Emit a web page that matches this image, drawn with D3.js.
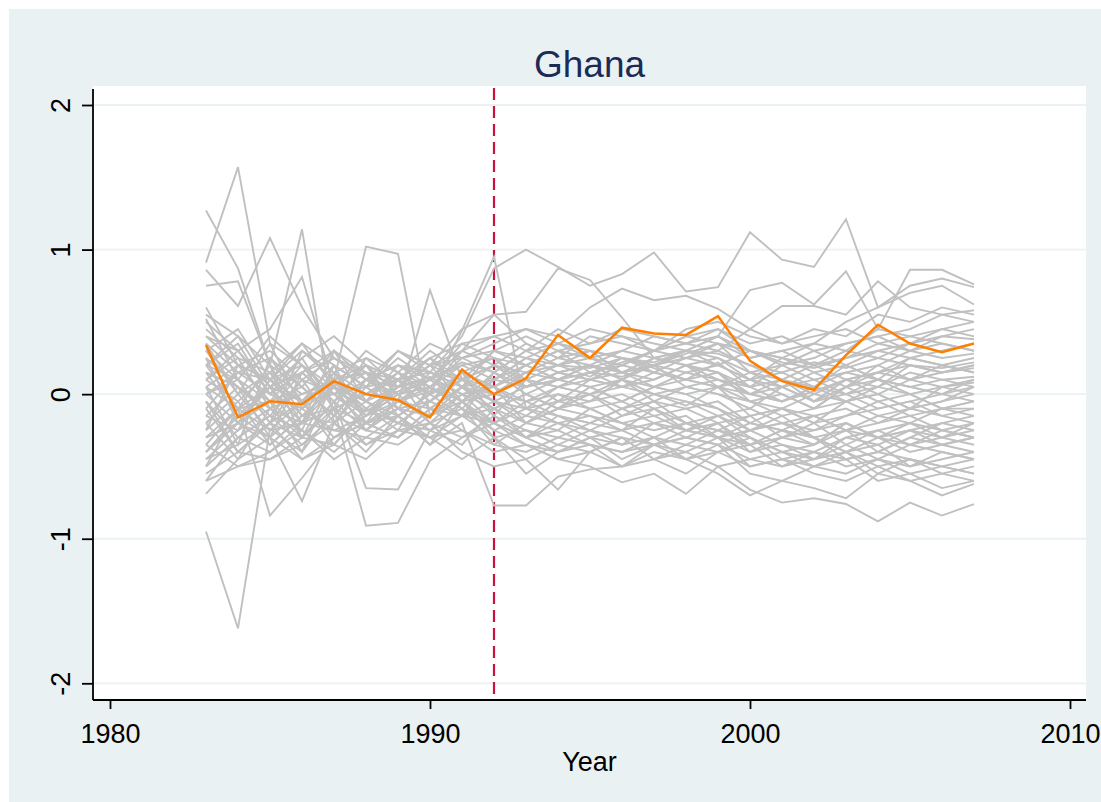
<!DOCTYPE html>
<html>
<head>
<meta charset="utf-8">
<script src="https://cdn.jsdelivr.net/npm/d3@7"></script>
<style>
  html, body { margin: 0; padding: 0; background: #ffffff; }
  svg { display: block; }
  text { font-family: "Liberation Sans", Arial, sans-serif; }
</style>
</head>
<body>
<svg id="chart" width="1101" height="802"></svg>
<script>
// ---------- DATA ----------
const title = "Ghana";
const xLabel = "Year";
const years = [1983,1984,1985,1986,1987,1988,1989,1990,1991,1992,1993,1994,1995,1996,1997,1998,1999,2000,2001,2002,2003,2004,2005,2006,2007];
const treatYear = 1992;
const xTicks = [1980, 1990, 2000, 2010];
const yTicks = [-2, -1, 0, 1, 2];

const ghana = [0.34,-0.16,-0.05,-0.07,0.09,0.00,-0.04,-0.16,0.17,0.00,0.11,0.41,0.25,0.46,0.42,0.41,0.54,0.23,0.09,0.03,0.27,0.48,0.35,0.29,0.35];

const g1  = [0.91,1.57,0.35,-0.10,0.05,-0.12,0.02,0.10,0.22,0.15,0.30,0.20,0.12,0.25,0.18,0.10,0.22,0.05,-0.05,0.02,0.10,0.15,0.20,0.18,0.22];
const g2  = [1.27,0.87,0.20,-0.30,0.10,0.15,-0.05,0.02,0.30,0.55,0.35,0.25,0.30,0.15,0.20,0.28,0.35,0.30,0.22,0.18,0.25,0.30,0.35,0.40,0.38];
const g3  = [0.86,0.61,1.08,0.60,0.25,0.10,0.05,0.20,0.10,0.05,-0.10,-0.05,0.10,0.05,0.00,-0.08,0.05,-0.15,-0.10,-0.20,-0.05,0.00,0.10,0.05,0.08];
const g4  = [0.75,0.78,0.20,1.14,-0.20,0.10,0.00,0.05,-0.10,-0.20,-0.30,-0.15,-0.20,-0.25,-0.10,-0.20,-0.30,-0.35,-0.25,-0.30,-0.40,-0.30,-0.35,-0.25,-0.30];
const g5  = [0.50,0.30,0.45,0.81,0.05,-0.15,0.10,0.25,0.05,0.10,0.20,0.30,0.15,0.22,0.30,0.35,0.40,0.25,0.30,0.35,0.50,0.60,0.70,0.75,0.62];
const g6  = [-0.95,-1.62,-0.24,-0.40,-0.10,-0.20,-0.30,-0.15,-0.05,-0.25,-0.35,-0.40,-0.30,-0.45,-0.35,-0.40,-0.30,-0.50,-0.45,-0.40,-0.50,-0.45,-0.55,-0.50,-0.45];
const g7  = [-0.30,-0.10,-0.84,-0.58,-0.30,-0.15,-0.05,-0.10,0.05,-0.10,0.00,-0.10,0.05,-0.05,0.05,0.00,-0.10,-0.20,-0.10,-0.15,-0.25,-0.20,-0.10,-0.15,-0.20];
const g8  = [-0.69,-0.45,-0.30,-0.74,-0.20,-0.35,-0.25,-0.20,-0.40,-0.50,-0.45,-0.35,-0.25,-0.30,-0.45,-0.35,-0.40,-0.30,-0.45,-0.50,-0.40,-0.55,-0.45,-0.50,-0.55];
const g9  = [0.10,0.25,-0.10,0.00,0.10,1.02,0.97,-0.15,0.05,0.30,0.20,0.10,0.15,0.05,0.10,0.20,0.05,-0.05,0.00,-0.10,0.05,0.10,0.00,0.05,0.10];
const g10 = [0.20,-0.10,0.05,-0.20,0.15,0.00,-0.05,0.72,0.10,0.00,0.15,0.10,0.20,0.15,0.25,0.30,0.20,0.10,0.15,0.05,0.20,0.10,0.25,0.20,0.15];
const g11 = [-0.40,-0.20,-0.35,-0.15,-0.10,-0.91,-0.89,-0.46,-0.30,-0.20,-0.30,-0.40,-0.35,-0.50,-0.40,-0.45,-0.35,-0.55,-0.60,-0.50,-0.45,-0.60,-0.55,-0.65,-0.60];
const g12 = [-0.20,-0.45,-0.10,-0.30,-0.05,-0.65,-0.66,-0.25,-0.15,-0.30,-0.55,-0.40,-0.30,-0.35,-0.20,-0.25,-0.15,-0.30,-0.40,-0.35,-0.20,-0.30,-0.25,-0.35,-0.30];
const g13 = [0.00,0.15,0.10,-0.05,0.20,0.05,0.10,0.00,0.44,0.95,-0.10,0.05,0.00,0.10,-0.05,0.05,0.00,-0.10,0.05,-0.05,0.10,0.00,-0.10,0.05,0.00];
const g14 = [-0.50,-0.30,-0.40,-0.20,-0.25,-0.30,-0.15,-0.35,-0.20,-0.77,-0.77,-0.57,-0.52,-0.50,-0.45,-0.55,-0.40,-0.50,-0.45,-0.55,-0.60,-0.50,-0.45,-0.55,-0.60];
const g15 = [0.30,0.10,0.40,0.20,0.05,0.20,0.10,0.15,0.40,0.87,1.00,0.88,0.75,0.83,0.98,0.71,0.74,1.12,0.93,0.88,1.21,0.60,0.75,0.80,0.74];
const g16 = [0.20,0.35,0.00,0.15,0.25,0.10,0.30,0.20,0.45,0.55,0.57,0.87,0.79,0.53,0.25,0.30,0.40,0.72,0.77,0.62,0.85,0.45,0.86,0.86,0.76];
const g17 = [0.40,0.20,0.10,0.30,0.15,0.25,0.05,0.20,0.30,0.40,0.45,0.40,0.60,0.73,0.65,0.68,0.59,0.45,0.61,0.61,0.55,0.78,0.60,0.55,0.58];
const g18 = [-0.40,-0.20,-0.30,-0.45,-0.35,-0.10,-0.20,-0.30,-0.25,-0.40,-0.35,-0.45,-0.50,-0.61,-0.55,-0.69,-0.50,-0.66,-0.75,-0.72,-0.76,-0.88,-0.75,-0.84,-0.76];
const g19 = [-0.10,-0.40,-0.20,-0.05,-0.30,-0.20,-0.10,-0.25,-0.05,-0.30,-0.45,-0.66,-0.40,-0.50,-0.35,-0.45,-0.55,-0.70,-0.60,-0.65,-0.72,-0.55,-0.60,-0.70,-0.62];
const b1  = [0.10,-0.05,0.15,0.00,0.08,-0.10,0.05,0.12,0.00,0.05,0.15,0.20,0.18,0.25,0.22,0.30,0.28,0.20,0.15,0.22,0.18,0.25,0.20,0.15,0.18];
const b2  = [-0.15,-0.25,-0.10,-0.20,0.05,-0.05,-0.15,0.00,0.10,-0.05,0.05,0.10,0.15,0.12,0.20,0.15,0.10,0.00,-0.05,0.05,0.00,-0.10,-0.05,0.00,-0.05];
const b3  = [0.25,0.05,-0.10,0.15,-0.05,0.10,0.20,0.05,-0.10,0.10,0.25,0.15,0.20,0.10,0.05,0.15,0.20,0.10,0.25,0.15,0.05,0.20,0.30,0.25,0.28];
const b4  = [-0.40,-0.15,-0.30,-0.10,-0.25,-0.15,0.00,-0.20,-0.10,-0.25,-0.15,-0.20,-0.30,-0.25,-0.35,-0.30,-0.20,-0.35,-0.30,-0.25,-0.20,-0.30,-0.40,-0.35,-0.30];
const b5  = [0.05,0.20,0.30,0.10,0.25,0.15,0.05,0.10,0.20,0.25,0.10,0.05,0.15,0.20,0.30,0.25,0.35,0.15,0.10,0.20,0.25,0.35,0.40,0.45,0.50];
const b6  = [-0.05,-0.30,-0.15,-0.35,-0.15,-0.25,-0.10,-0.05,0.15,0.05,-0.20,-0.10,0.00,-0.15,-0.05,-0.20,-0.25,-0.15,-0.30,-0.20,-0.35,-0.25,-0.20,-0.30,-0.25];
const b7  = [0.35,0.15,0.25,-0.05,0.10,0.20,0.00,0.05,0.25,0.15,0.30,0.35,0.25,0.30,0.40,0.35,0.45,0.30,0.20,0.25,0.35,0.40,0.30,0.35,0.30];
const b8  = [-0.25,-0.05,-0.35,-0.15,-0.20,0.05,-0.10,-0.15,0.05,-0.15,-0.25,-0.30,-0.20,-0.10,-0.20,-0.15,-0.30,-0.25,-0.15,-0.30,-0.25,-0.40,-0.30,-0.20,-0.25];
const b9  = [0.15,-0.15,0.05,0.25,-0.10,0.00,0.15,-0.05,0.10,0.20,0.10,0.20,0.25,0.15,0.20,0.25,0.30,0.20,0.10,0.05,0.15,0.10,0.05,0.10,0.12];
const b10 = [-0.45,-0.35,-0.20,-0.45,-0.30,-0.20,-0.30,-0.10,-0.25,-0.35,-0.20,-0.25,-0.10,-0.20,-0.15,-0.25,-0.20,-0.40,-0.35,-0.45,-0.30,-0.35,-0.50,-0.45,-0.40];
const b11 = [0.00,0.10,-0.05,0.05,-0.15,0.10,0.05,0.20,-0.05,0.15,0.05,0.15,0.10,0.20,0.15,0.10,0.05,0.15,0.05,0.10,0.00,0.05,0.15,0.10,0.05];
const b12 = [0.45,0.25,0.15,0.35,0.20,0.05,0.25,0.10,0.30,0.20,0.35,0.25,0.40,0.35,0.30,0.40,0.35,0.25,0.30,0.20,0.30,0.25,0.35,0.45,0.40];
const b13 = [-0.20,0.00,-0.25,-0.05,-0.35,-0.10,-0.20,-0.05,-0.15,-0.05,-0.15,0.00,-0.10,-0.05,-0.15,-0.10,-0.05,-0.20,-0.25,-0.15,-0.10,-0.20,-0.15,-0.25,-0.20];
const b14 = [0.20,0.40,0.05,0.15,0.30,0.10,0.20,0.15,0.05,0.20,0.15,0.25,0.20,0.30,0.25,0.20,0.25,0.10,0.05,0.15,0.20,0.10,0.05,0.00,0.05];
const b15 = [-0.35,-0.50,-0.40,-0.25,-0.45,-0.30,-0.35,-0.20,-0.30,-0.15,-0.30,-0.20,-0.25,-0.35,-0.30,-0.35,-0.25,-0.30,-0.40,-0.45,-0.35,-0.45,-0.35,-0.40,-0.45];
const b16 = [0.05,-0.10,0.20,-0.15,0.05,-0.05,0.15,0.00,0.15,0.05,0.20,0.10,0.05,0.10,0.20,0.05,0.10,0.00,0.10,-0.05,0.05,0.15,0.10,0.20,0.15];
const b17 = [0.55,0.40,0.20,0.05,0.30,0.15,0.10,0.25,0.35,0.40,0.30,0.45,0.35,0.40,0.30,0.45,0.50,0.40,0.35,0.45,0.40,0.55,0.50,0.60,0.55];
const b18 = [-0.55,-0.40,-0.45,-0.30,-0.35,-0.45,-0.25,-0.30,-0.15,-0.20,-0.35,-0.45,-0.40,-0.30,-0.45,-0.40,-0.50,-0.45,-0.40,-0.50,-0.55,-0.45,-0.50,-0.40,-0.45];
const b19 = [0.15,0.05,-0.15,0.10,0.00,-0.20,-0.05,0.05,-0.05,0.00,0.10,0.05,0.00,0.05,0.10,0.20,0.15,0.05,0.10,0.00,-0.05,0.05,0.00,-0.10,-0.05];
const b20 = [-0.10,0.15,0.00,-0.10,0.15,-0.15,0.00,0.10,0.00,-0.10,0.00,-0.10,-0.05,0.00,-0.10,-0.05,-0.15,-0.10,-0.20,-0.15,-0.25,-0.15,-0.20,-0.10,-0.15];
const b21 = [0.30,0.00,0.35,0.20,-0.10,0.25,0.15,0.05,0.20,0.10,0.05,0.15,0.10,0.05,0.15,0.10,0.15,-0.05,-0.10,0.00,0.10,0.05,0.20,0.15,0.20];
const b22 = [-0.60,-0.30,-0.15,-0.25,-0.40,-0.20,-0.15,-0.35,-0.05,-0.20,-0.10,-0.20,-0.15,-0.25,-0.20,-0.30,-0.35,-0.25,-0.20,-0.30,-0.45,-0.40,-0.30,-0.35,-0.40];
const b23 = [0.00,-0.20,0.10,0.20,0.00,0.05,-0.10,0.15,0.05,0.00,-0.05,0.05,0.10,0.15,0.05,0.00,0.05,0.00,-0.05,0.05,-0.05,-0.15,-0.10,-0.05,0.00];
const b24 = [-0.30,-0.20,0.05,-0.30,-0.05,-0.25,-0.30,-0.10,-0.15,-0.10,-0.20,-0.10,-0.15,-0.20,-0.25,-0.20,-0.15,-0.25,-0.35,-0.40,-0.30,-0.25,-0.35,-0.30,-0.35];
const b25 = [0.40,0.30,0.00,0.25,0.40,0.20,0.10,0.30,0.15,0.25,0.20,0.30,0.25,0.20,0.30,0.40,0.45,0.35,0.40,0.30,0.20,0.30,0.25,0.30,0.35];
const b26 = [-0.05,-0.40,-0.20,0.10,-0.20,-0.05,-0.20,-0.05,0.10,-0.05,-0.10,-0.15,-0.20,-0.10,-0.05,-0.10,-0.20,-0.15,-0.10,-0.20,-0.15,-0.10,-0.05,-0.15,-0.10];
const b27 = [0.20,0.10,-0.20,-0.30,-0.10,0.00,0.10,-0.20,0.00,0.05,-0.05,0.00,-0.05,0.10,0.00,0.05,0.00,-0.05,-0.15,-0.10,-0.05,0.00,-0.10,-0.05,0.05];
const b28 = [-0.50,-0.10,-0.05,-0.40,0.10,-0.10,-0.25,0.05,-0.10,-0.35,-0.40,-0.30,-0.35,-0.40,-0.30,-0.45,-0.40,-0.35,-0.50,-0.45,-0.40,-0.50,-0.60,-0.55,-0.50];
const b29 = [0.60,0.20,0.10,-0.05,0.20,0.05,0.30,0.15,0.10,0.30,0.25,0.35,0.30,0.25,0.20,0.30,0.25,0.15,0.20,0.30,0.35,0.40,0.45,0.55,0.50];
const b30 = [0.10,0.30,0.05,-0.05,0.00,0.15,-0.15,0.00,-0.15,0.15,0.00,0.10,0.05,-0.05,0.05,0.10,0.05,0.10,0.00,-0.10,0.05,-0.05,0.00,-0.10,-0.05];
const b31 = [-0.60,-0.50,-0.45,-0.35,-0.20,-0.40,-0.15,-0.30,-0.45,-0.30,-0.25,-0.35,-0.40,-0.30,-0.35,-0.25,-0.30,-0.40,-0.30,-0.35,-0.25,-0.30,-0.20,-0.25,-0.30];
const b32 = [0.30,0.45,0.10,0.35,0.05,0.30,0.15,0.35,0.25,0.30,0.40,0.30,0.35,0.45,0.40,0.35,0.30,0.45,0.35,0.40,0.45,0.35,0.30,0.40,0.45];
const b33 = [0.52,0.10,-0.20,0.30,0.10,-0.05,0.20,0.10,0.35,0.25,0.05,0.15,0.20,0.10,0.25,0.20,0.10,0.05,0.20,0.10,0.15,0.20,0.10,0.15,0.20];
const b34 = [-0.45,-0.25,0.10,-0.15,0.05,-0.25,-0.05,-0.15,0.00,-0.20,-0.05,-0.15,-0.25,-0.15,-0.10,-0.25,-0.30,-0.20,-0.25,-0.35,-0.20,-0.30,-0.25,-0.20,-0.15];
const b35 = [0.05,-0.35,0.25,0.05,-0.15,0.10,-0.05,0.10,-0.05,0.10,0.25,0.20,0.30,0.25,0.15,0.25,0.20,0.30,0.25,0.20,0.10,0.15,0.25,0.20,0.25];
const b36 = [-0.25,0.20,-0.05,-0.25,0.20,-0.20,0.10,-0.10,0.05,-0.05,-0.20,-0.05,-0.10,-0.20,-0.30,-0.20,-0.25,-0.35,-0.25,-0.30,-0.40,-0.35,-0.25,-0.30,-0.20];
const b37 = [0.25,-0.20,-0.05,0.20,0.00,-0.15,0.05,0.25,0.10,0.20,0.05,0.10,0.20,0.15,0.10,0.20,0.15,0.00,0.05,-0.05,0.00,0.10,0.05,0.00,0.10];
const b38 = [-0.15,0.05,-0.30,0.15,-0.05,0.20,-0.10,-0.05,0.15,-0.15,0.10,-0.05,0.00,-0.10,0.00,-0.05,-0.10,-0.25,-0.20,-0.25,-0.15,-0.05,-0.15,-0.10,-0.10];
const b39 = [0.35,0.00,0.15,-0.20,0.30,-0.05,0.05,0.20,0.25,0.35,0.45,0.35,0.45,0.40,0.35,0.30,0.40,0.30,0.25,0.35,0.30,0.45,0.40,0.35,0.30];
const b40 = [-0.35,-0.10,-0.25,-0.20,-0.10,-0.35,-0.20,-0.25,-0.35,-0.10,-0.30,-0.25,-0.35,-0.40,-0.35,-0.30,-0.35,-0.45,-0.50,-0.40,-0.45,-0.40,-0.45,-0.50,-0.55];

const donors = [g1,g2,g3,g4,g5,g6,g7,g8,g9,g10,g11,g12,g13,g14,g15,g16,g17,g18,g19,
  b1,b2,b3,b4,b5,b6,b7,b8,b9,b10,b11,b12,b13,b14,b15,b16,b17,b18,b19,b20,b21,b22,b23,b24,b25,b26,b27,b28,b29,b30,b31,b32,
  b33,b34,b35,b36,b37,b38,b39,b40];

// ---------- LAYOUT ----------
const W = 1101, H = 802;
const plot = { left: 93, right: 1086, top: 86, bottom: 700 };
const svg = d3.select("#chart");

svg.append("rect").attr("x", 9).attr("y", 9).attr("width", W - 9).attr("height", H - 9).attr("fill", "#EAF1F3");
svg.append("rect").attr("x", plot.left).attr("y", plot.top)
   .attr("width", plot.right - plot.left).attr("height", plot.bottom - plot.top).attr("fill", "#ffffff");

const x = d3.scaleLinear().domain([1980, 2010]).range([110, 1070]);
const y = d3.scaleLinear().domain([-2, 2]).range([683.3, 105]);

// gridlines
svg.append("g").selectAll("line").data(yTicks).join("line")
  .attr("x1", plot.left).attr("x2", plot.right)
  .attr("y1", d => y(d)).attr("y2", d => y(d))
  .attr("stroke", "#EAF2F3").attr("stroke-width", 1.8);

// treatment line
svg.append("line")
  .attr("x1", x(treatYear)).attr("x2", x(treatYear))
  .attr("y1", plot.top + 2).attr("y2", plot.bottom)
  .attr("stroke", "#C8133F").attr("stroke-width", 2.2)
  .attr("stroke-dasharray", "12,6");

const line = d3.line().x((d, i) => x(years[i])).y(d => y(d));

svg.append("g").selectAll("path").data(donors).join("path")
  .attr("d", line).attr("fill", "none")
  .attr("stroke", "#C0C0C0").attr("stroke-width", 1.9).attr("stroke-linejoin", "miter");

svg.append("path").datum(ghana).attr("d", line).attr("fill", "none")
  .attr("stroke", "#FF7F00").attr("stroke-width", 2.5);

// axes
const fmt = d => String(d);
const yAxis = d3.axisLeft(y).tickValues(yTicks).tickSize(11).tickSizeOuter(0).tickPadding(0).tickFormat(fmt);
const gy = svg.append("g").attr("transform", `translate(${plot.left},0)`).call(yAxis);
gy.select(".domain").remove();
gy.selectAll(".tick line").attr("stroke", "#000").attr("stroke-width", 1.8);
gy.selectAll(".tick text")
  .attr("transform", "translate(-23,0) rotate(-90)")
  .attr("x", 0).attr("y", 0).attr("dy", 0)
  .attr("text-anchor", "middle")
  .style("font-size", "27px").style("fill", "#000")
  .style("font-family", '"Liberation Sans", Arial, sans-serif');

const xAxis = d3.axisBottom(x).tickValues(xTicks).tickSize(9).tickSizeOuter(0).tickPadding(0).tickFormat(fmt);
const gx = svg.append("g").attr("transform", `translate(0,${plot.bottom})`).call(xAxis);
gx.select(".domain").remove();
gx.selectAll(".tick line").attr("stroke", "#000").attr("stroke-width", 1.8);
gx.selectAll(".tick text").attr("y", 43).attr("dy", 0)
  .style("font-size", "27px").style("fill", "#000")
  .style("font-family", '"Liberation Sans", Arial, sans-serif');

// axis lines
svg.append("line").attr("x1", plot.left).attr("x2", plot.left).attr("y1", plot.top + 3).attr("y2", plot.bottom)
  .attr("stroke", "#000").attr("stroke-width", 1.8);
svg.append("line").attr("x1", plot.left).attr("x2", plot.right).attr("y1", plot.bottom).attr("y2", plot.bottom)
  .attr("stroke", "#000").attr("stroke-width", 1.8);

// titles
svg.append("text").attr("x", (plot.left + plot.right) / 2).attr("y", 77)
  .attr("text-anchor", "middle").style("font-size", "37px").style("fill", "#1C2B55")
  .text(title);
svg.append("text").attr("x", (plot.left + plot.right) / 2).attr("y", 771)
  .attr("text-anchor", "middle").style("font-size", "27px").style("fill", "#000")
  .text(xLabel);
</script>
</body>
</html>
